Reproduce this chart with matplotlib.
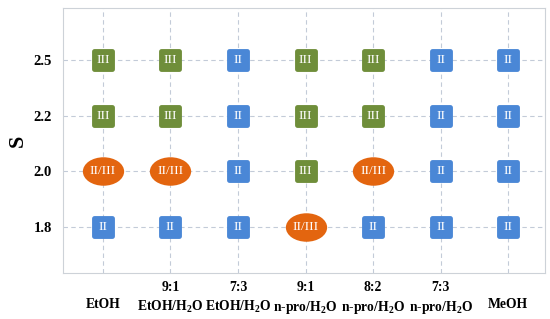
import matplotlib.pyplot as plt
from matplotlib.markers import MarkerStyle
from matplotlib.transforms import Affine2D

plt.rcParams['font.family'] = ['Liberation Serif', 'DejaVu Serif']
plt.rcParams['font.weight'] = 'bold'
plt.rcParams['mathtext.default'] = 'regular'

solvents = ["\nEtOH", "9:1\nEtOH/H$_2$O", "7:3\nEtOH/H$_2$O", "9:1\nn-pro/H$_2$O",
            "8:2\nn-pro/H$_2$O", "7:3\nn-pro/H$_2$O", "\nMeOH"]
s_values = ["1.8", "2.0", "2.2", "2.5"]
# polymorph obtained, one row per S value (bottom to top)
form_18 = ["II", "II", "II", "II/III", "II", "II", "II"]
form_20 = ["II/III", "II/III", "II", "III", "II/III", "II", "II"]
form_22 = ["III", "III", "II", "III", "III", "II", "II"]
form_25 = ["III", "III", "II", "III", "III", "II", "II"]
forms = [form_18, form_20, form_22, form_25]

colors = {"II": "#4A87D6", "III": "#6F8E3A", "II/III": "#E3650F"}
square = MarkerStyle('s', joinstyle='round')
ellipse = MarkerStyle('o', transform=Affine2D().scale(1.45, 1.0))

fig = plt.figure(figsize=(5.5, 3.19), dpi=100)
ax = fig.add_axes([0.1145, 0.144, 0.877, 0.831])

for j, row in enumerate(forms):
    for i, f in enumerate(row):
        if f == "II/III":
            ax.plot(i, j, marker=ellipse, ms=20.5, color=colors[f], mec=colors[f], mew=0)
        else:
            ax.plot(i, j, marker=square, ms=13.5, color=colors[f], mec=colors[f], mew=3.5)
        ax.text(i, j, f, color='white', ha='center', va='center', fontsize=9.5,
                fontweight='normal')

ax.set_xlim(-0.59, 6.55)
ax.set_ylim(-0.82, 3.93)
ax.set_xticks(range(len(solvents)))
ax.set_xticklabels(solvents, fontsize=9.8, fontweight='bold', linespacing=1.4)
ax.set_yticks(range(len(s_values)))
ax.set_yticklabels(s_values, fontsize=10.5, fontweight='bold')
ax.tick_params(length=0, pad=8)
ax.tick_params(axis='x', pad=6)
ax.set_ylabel("S", fontsize=16, fontweight='bold', labelpad=4)
ax.grid(True, linestyle=(0, (4, 3)), color='#C3CBD8', linewidth=0.8)
ax.set_axisbelow(True)
for sp in ax.spines.values():
    sp.set_color('#CDD2D8')

fig.savefig("out.png", dpi=100)
